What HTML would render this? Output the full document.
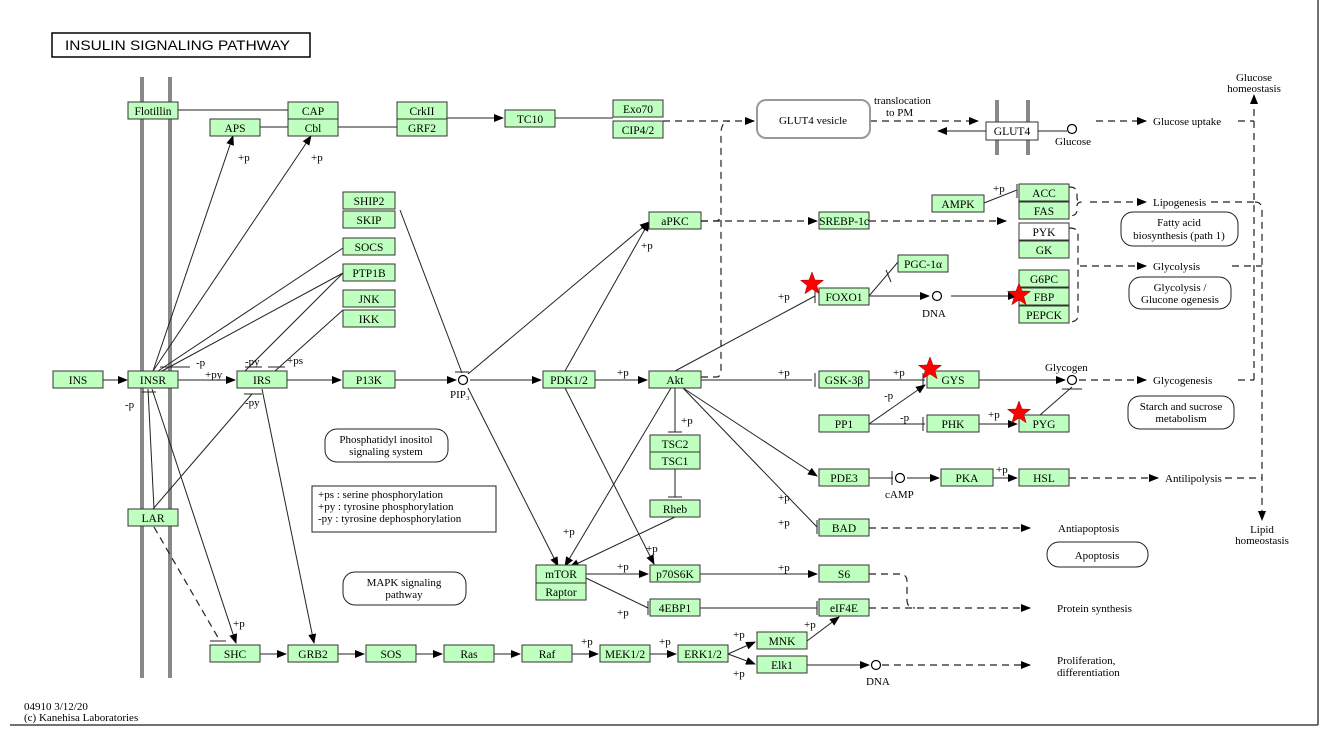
<!DOCTYPE html>
<html><head><meta charset="utf-8"><style>
html,body{margin:0;padding:0;background:#fff;}
svg{display:block;font-family:"Liberation Serif",serif;}
.n rect{fill:#bfffbf;stroke:#333;stroke-width:1;}
.n text{font-size:11.5px;text-anchor:middle;fill:#000;}
.w rect{fill:#fff;}
.l{stroke:#222;stroke-width:1;fill:none;}
.d{stroke:#222;stroke-width:1.2;fill:none;stroke-dasharray:7,5;}
.t{font-size:11px;fill:#000;}
.c{font-size:11px;fill:#000;text-anchor:middle;}
.rb{fill:#fff;stroke:#222;stroke-width:1;}
</style></head><body>
<svg width="1325" height="734" viewBox="0 0 1325 734" xmlns="http://www.w3.org/2000/svg">
<defs>
<marker id="a" markerWidth="10" markerHeight="8" refX="9" refY="4" orient="auto" markerUnits="userSpaceOnUse"><path d="M0,0 L10,4 L0,8 z" fill="#000"/></marker>
</defs>
<line x1="1318" y1="0" x2="1318" y2="725" stroke="#444" stroke-width="1.5"/>
<line x1="10" y1="725" x2="1318" y2="725" stroke="#444" stroke-width="1.5"/>
<rect x="52" y="33" width="258" height="24" fill="#fff" stroke="#000" stroke-width="1.5"/>
<text x="65" y="50" textLength="225" lengthAdjust="spacingAndGlyphs" style="font-size:13.5px;font-family:'Liberation Sans',sans-serif">INSULIN SIGNALING PATHWAY</text>
<line x1="142" y1="77" x2="142" y2="678" stroke="#888" stroke-width="4"/>
<line x1="170" y1="77" x2="170" y2="678" stroke="#888" stroke-width="4"/>
<line x1="997" y1="100" x2="997" y2="155" stroke="#888" stroke-width="4"/>
<line x1="1028" y1="100" x2="1028" y2="155" stroke="#888" stroke-width="4"/>

<g class="l">
<line x1="178" y1="110" x2="288" y2="110"/>
<line x1="260" y1="127" x2="288" y2="127"/>
<line x1="338" y1="127" x2="397" y2="127"/>
<line x1="447" y1="118" x2="503" y2="118" marker-end="url(#a)"/>
<line x1="555" y1="118" x2="613" y2="118"/>
<line x1="103" y1="380" x2="127" y2="380" marker-end="url(#a)"/>
<line x1="178" y1="380" x2="235" y2="380" marker-end="url(#a)"/>
<line x1="287" y1="380" x2="341" y2="380" marker-end="url(#a)"/>
<line x1="395" y1="380" x2="456" y2="380" marker-end="url(#a)"/>
<line x1="470" y1="380" x2="541" y2="380" marker-end="url(#a)"/>
<line x1="595" y1="380" x2="647" y2="380" marker-end="url(#a)"/>
<line x1="701" y1="380" x2="812" y2="380"/><line x1="815" y1="373" x2="815" y2="387"/>
<line x1="869" y1="380" x2="925" y2="380"/><line x1="923" y1="373" x2="923" y2="387"/>
<line x1="979" y1="380" x2="1065" y2="380" marker-end="url(#a)"/>
<line x1="869" y1="424" x2="925" y2="424"/><line x1="923" y1="417" x2="923" y2="431"/>
<line x1="869" y1="424" x2="925" y2="385" marker-end="url(#a)"/>
<line x1="979" y1="424" x2="1017" y2="424" marker-end="url(#a)"/>
<line x1="1040" y1="415" x2="1072" y2="387"/><line x1="1062" y1="389" x2="1082" y2="389"/>
<line x1="153" y1="371" x2="233" y2="136" marker-end="url(#a)"/>
<line x1="153" y1="371" x2="311" y2="136" marker-end="url(#a)"/>
<line x1="158" y1="371" x2="343" y2="248"/>
<line x1="162" y1="371" x2="343" y2="273"/>
<line x1="245" y1="371" x2="343" y2="273"/>
<line x1="275" y1="371" x2="343" y2="310"/>
<line x1="160" y1="367" x2="190" y2="367"/><line x1="245" y1="367" x2="262" y2="367"/><line x1="268" y1="367" x2="285" y2="367"/>
<line x1="400" y1="210" x2="462" y2="373"/><line x1="455" y1="372" x2="469" y2="372"/>
<line x1="468" y1="374" x2="649" y2="222" marker-end="url(#a)"/>
<line x1="565" y1="371" x2="649" y2="222" marker-end="url(#a)"/>
<line x1="468" y1="388" x2="558" y2="566" marker-end="url(#a)"/>
<line x1="565" y1="388" x2="654" y2="564" marker-end="url(#a)"/>
<line x1="671" y1="388" x2="565" y2="566" marker-end="url(#a)"/>
<line x1="675" y1="388" x2="675" y2="432"/><line x1="668" y1="432" x2="682" y2="432"/>
<line x1="675" y1="469" x2="675" y2="497"/><line x1="668" y1="497" x2="682" y2="497"/>
<line x1="675" y1="517" x2="570" y2="567" marker-end="url(#a)"/>
<line x1="586" y1="574" x2="648" y2="574" marker-end="url(#a)"/>
<line x1="586" y1="578" x2="648" y2="608"/><line x1="648" y1="601" x2="648" y2="615"/>
<line x1="700" y1="574" x2="817" y2="574" marker-end="url(#a)"/>
<line x1="700" y1="608" x2="817" y2="608"/><line x1="817" y1="601" x2="817" y2="615"/>
<line x1="675" y1="371" x2="815" y2="296"/><line x1="815" y1="289" x2="815" y2="303"/>
<line x1="869" y1="296" x2="898" y2="262"/><line x1="886" y1="270" x2="891" y2="282"/>
<line x1="869" y1="296" x2="929" y2="296" marker-end="url(#a)"/>
<line x1="951" y1="296" x2="1017" y2="296" marker-end="url(#a)"/>
<line x1="984" y1="203" x2="1017" y2="190"/><line x1="1017" y1="184" x2="1017" y2="198"/>
<line x1="683" y1="388" x2="817" y2="476" marker-end="url(#a)"/>
<line x1="683" y1="388" x2="817" y2="527"/><line x1="817" y1="520" x2="817" y2="534"/>
<line x1="869" y1="478" x2="893" y2="478"/><line x1="892" y1="471" x2="892" y2="485"/>
<line x1="907" y1="478" x2="939" y2="478" marker-end="url(#a)"/>
<line x1="993" y1="478" x2="1017" y2="478" marker-end="url(#a)"/>
<line x1="148" y1="389" x2="154" y2="509"/><line x1="142" y1="392" x2="156" y2="392"/>
<line x1="153" y1="509" x2="252" y2="394"/><line x1="244" y1="394" x2="262" y2="394"/>
<line x1="152" y1="389" x2="236" y2="643" marker-end="url(#a)"/>
<line x1="262" y1="389" x2="314" y2="643" marker-end="url(#a)"/>
<line x1="260" y1="654" x2="286" y2="654" marker-end="url(#a)"/>
<line x1="338" y1="654" x2="364" y2="654" marker-end="url(#a)"/>
<line x1="416" y1="654" x2="442" y2="654" marker-end="url(#a)"/>
<line x1="494" y1="654" x2="520" y2="654" marker-end="url(#a)"/>
<line x1="572" y1="654" x2="598" y2="654" marker-end="url(#a)"/>
<line x1="650" y1="654" x2="676" y2="654" marker-end="url(#a)"/>
<line x1="728" y1="654" x2="755" y2="642" marker-end="url(#a)"/>
<line x1="728" y1="654" x2="755" y2="664" marker-end="url(#a)"/>
<line x1="807" y1="641" x2="839" y2="617" marker-end="url(#a)"/>
<line x1="807" y1="665" x2="869" y2="665" marker-end="url(#a)"/>
<line x1="1038" y1="131" x2="1067" y2="131"/>
<line x1="986" y1="131" x2="938" y2="131" marker-end="url(#a)"/>
<line x1="210" y1="641" x2="226" y2="641"/>
</g>
<g class="d">
<line x1="663" y1="121" x2="754" y2="121" marker-end="url(#a)"/>
<path d="M701,377 L716,377 Q721,377 721,371 L721,134 Q721,121 730,121"/>
<path d="M701,221 L716,221 Q721,220 721,214"/>
<line x1="701" y1="221" x2="817" y2="221" marker-end="url(#a)"/>
<line x1="869" y1="221" x2="1006" y2="221" marker-end="url(#a)"/>
<line x1="870" y1="121" x2="978" y2="121" marker-end="url(#a)"/>
<line x1="1096" y1="121" x2="1146" y2="121" marker-end="url(#a)"/>
<line x1="1238" y1="121" x2="1254" y2="121"/>
<line x1="1254" y1="380" x2="1254" y2="95" marker-end="url(#a)"/>
<line x1="1238" y1="380" x2="1254" y2="380"/>
<line x1="1079" y1="380" x2="1146" y2="380" marker-end="url(#a)"/>
<path d="M1069,187 Q1077,187 1077,193 L1077,198 Q1077,202 1082,202 Q1077,202 1077,206 L1077,210 Q1077,216 1069,216"/>
<line x1="1090" y1="202" x2="1146" y2="202" marker-end="url(#a)"/>
<path d="M1069,228 Q1078,228 1078,234 L1078,315 Q1078,322 1069,322"/>
<line x1="1080" y1="266" x2="1146" y2="266" marker-end="url(#a)"/>
<line x1="1211" y1="202" x2="1255" y2="202"/>
<path d="M1255,202 Q1262,202 1262,210 L1262,520" marker-end="url(#a)"/>
<line x1="1232" y1="266" x2="1262" y2="266"/>
<line x1="1069" y1="478" x2="1158" y2="478" marker-end="url(#a)"/>
<line x1="1225" y1="478" x2="1262" y2="478"/>
<line x1="869" y1="528" x2="1030" y2="528" marker-end="url(#a)"/>
<path d="M869,574 L900,574 Q907,574 907,582 L907,600 Q907,608 915,608"/>
<line x1="869" y1="608" x2="1030" y2="608" marker-end="url(#a)"/>
<line x1="882" y1="665" x2="1030" y2="665" marker-end="url(#a)"/>
<line x1="154" y1="527" x2="220" y2="641"/>
</g>
<g fill="#fff" stroke="#000" stroke-width="1.2">
<circle cx="463" cy="380" r="4.5"/><circle cx="1072" cy="129" r="4.5"/><circle cx="937" cy="296" r="4.5"/>
<circle cx="1072" cy="380" r="4.5"/><circle cx="900" cy="478" r="4.5"/><circle cx="876" cy="665" r="4.5"/>
</g>
<rect x="757" y="100" width="113" height="38" rx="9" fill="#fff" stroke="#999" stroke-width="2"/>
<text x="813" y="124" class="c">GLUT4 vesicle</text>
<rect class="rb" x="1121" y="212" width="117" height="34" rx="12"/>
<text class="c" x="1179" y="226">Fatty acid</text><text class="c" x="1179" y="239">biosynthesis (path 1)</text>
<rect class="rb" x="1129" y="277" width="102" height="32" rx="12"/>
<text class="c" x="1180" y="291">Glycolysis /</text><text class="c" x="1180" y="303">Glucone ogenesis</text>
<rect class="rb" x="1128" y="396" width="106" height="33" rx="12"/>
<text class="c" x="1181" y="410">Starch and sucrose</text><text class="c" x="1181" y="422">metabolism</text>
<rect class="rb" x="1047" y="542" width="101" height="25" rx="12"/>
<text class="c" x="1097" y="559">Apoptosis</text>
<rect class="rb" x="325" y="429" width="123" height="33" rx="12"/>
<text class="c" x="386" y="443">Phosphatidyl inositol</text><text class="c" x="386" y="455">signaling system</text>
<rect class="rb" x="343" y="572" width="123" height="33" rx="12"/>
<text class="c" x="404" y="586">MAPK signaling</text><text class="c" x="404" y="598">pathway</text>
<rect x="312" y="486" width="184" height="46" fill="#fff" stroke="#222"/>
<text class="t" x="318" y="498">+ps : serine phosphorylation</text>
<text class="t" x="318" y="510">+py : tyrosine phosphorylation</text>
<text class="t" x="318" y="522">-py : tyrosine dephosphorylation</text>

<g class="n">
<rect x="128" y="102" width="50" height="17"/><text x="153" y="115">Flotillin</text>
<rect x="288" y="102" width="50" height="17"/><text x="313" y="115">CAP</text>
<rect x="288" y="119" width="50" height="17"/><text x="313" y="132">Cbl</text>
<rect x="210" y="119" width="50" height="17"/><text x="235" y="132">APS</text>
<rect x="397" y="102" width="50" height="17"/><text x="422" y="115">CrkII</text>
<rect x="397" y="119" width="50" height="17"/><text x="422" y="132">GRF2</text>
<rect x="505" y="110" width="50" height="17"/><text x="530" y="123">TC10</text>
<rect x="613" y="100" width="50" height="17"/><text x="638" y="113">Exo70</text>
<rect x="613" y="121" width="50" height="17"/><text x="638" y="134">CIP4/2</text>
<rect x="343" y="192" width="52" height="17"/><text x="369" y="205">SHIP2</text>
<rect x="343" y="211" width="52" height="17"/><text x="369" y="224">SKIP</text>
<rect x="343" y="238" width="52" height="17"/><text x="369" y="251">SOCS</text>
<rect x="343" y="264" width="52" height="17"/><text x="369" y="277">PTP1B</text>
<rect x="343" y="290" width="52" height="17"/><text x="369" y="303">JNK</text>
<rect x="343" y="310" width="52" height="17"/><text x="369" y="323">IKK</text>
<rect x="649" y="212" width="52" height="17"/><text x="675" y="225">aPKC</text>
<rect x="819" y="212" width="50" height="17"/><text x="844" y="225">SREBP-1c</text>
<rect x="932" y="195" width="52" height="17"/><text x="958" y="208">AMPK</text>
<rect x="1019" y="184" width="50" height="17"/><text x="1044" y="197">ACC</text>
<rect x="1019" y="202" width="50" height="17"/><text x="1044" y="215">FAS</text>
<g class="w"><rect x="1019" y="223" width="50" height="17"/></g><text x="1044" y="236">PYK</text>
<rect x="1019" y="241" width="50" height="17"/><text x="1044" y="254">GK</text>
<rect x="898" y="255" width="50" height="17"/><text x="923" y="268">PGC-1α</text>
<rect x="819" y="288" width="50" height="17"/><text x="844" y="301">FOXO1</text>
<rect x="1019" y="270" width="50" height="17"/><text x="1044" y="283">G6PC</text>
<rect x="1019" y="288" width="50" height="17"/><text x="1044" y="301">FBP</text>
<rect x="1019" y="306" width="50" height="17"/><text x="1044" y="319">PEPCK</text>
<rect x="53" y="371" width="50" height="17"/><text x="78" y="384">INS</text>
<rect x="128" y="371" width="50" height="17"/><text x="153" y="384">INSR</text>
<rect x="237" y="371" width="50" height="17"/><text x="262" y="384">IRS</text>
<rect x="343" y="371" width="52" height="17"/><text x="369" y="384">P13K</text>
<rect x="543" y="371" width="52" height="17"/><text x="569" y="384">PDK1/2</text>
<rect x="649" y="371" width="52" height="17"/><text x="675" y="384">Akt</text>
<rect x="819" y="371" width="50" height="17"/><text x="844" y="384">GSK-3β</text>
<rect x="927" y="371" width="52" height="17"/><text x="953" y="384">GYS</text>
<rect x="819" y="415" width="50" height="17"/><text x="844" y="428">PP1</text>
<rect x="927" y="415" width="52" height="17"/><text x="953" y="428">PHK</text>
<rect x="1019" y="415" width="50" height="17"/><text x="1044" y="428">PYG</text>
<rect x="650" y="435" width="50" height="17"/><text x="675" y="448">TSC2</text>
<rect x="650" y="452" width="50" height="17"/><text x="675" y="465">TSC1</text>
<rect x="650" y="500" width="50" height="17"/><text x="675" y="513">Rheb</text>
<rect x="819" y="469" width="50" height="17"/><text x="844" y="482">PDE3</text>
<rect x="941" y="469" width="52" height="17"/><text x="967" y="482">PKA</text>
<rect x="1019" y="469" width="50" height="17"/><text x="1044" y="482">HSL</text>
<rect x="819" y="519" width="50" height="17"/><text x="844" y="532">BAD</text>
<rect x="128" y="509" width="50" height="17"/><text x="153" y="522">LAR</text>
<rect x="536" y="565" width="50" height="18"/><text x="561" y="578">mTOR</text>
<rect x="536" y="583" width="50" height="17"/><text x="561" y="596">Raptor</text>
<rect x="650" y="565" width="50" height="17"/><text x="675" y="578">p70S6K</text>
<rect x="819" y="565" width="50" height="17"/><text x="844" y="578">S6</text>
<rect x="650" y="599" width="50" height="17"/><text x="675" y="612">4EBP1</text>
<rect x="819" y="599" width="50" height="17"/><text x="844" y="612">eIF4E</text>
<rect x="210" y="645" width="50" height="17"/><text x="235" y="658">SHC</text>
<rect x="288" y="645" width="50" height="17"/><text x="313" y="658">GRB2</text>
<rect x="366" y="645" width="50" height="17"/><text x="391" y="658">SOS</text>
<rect x="444" y="645" width="50" height="17"/><text x="469" y="658">Ras</text>
<rect x="522" y="645" width="50" height="17"/><text x="547" y="658">Raf</text>
<rect x="600" y="645" width="50" height="17"/><text x="625" y="658">MEK1/2</text>
<rect x="678" y="645" width="50" height="17"/><text x="703" y="658">ERK1/2</text>
<rect x="757" y="632" width="50" height="17"/><text x="782" y="645">MNK</text>
<rect x="757" y="656" width="50" height="17"/><text x="782" y="669">Elk1</text>
<g class="w"><rect x="986" y="122" width="52" height="18"/></g><text x="1012" y="135">GLUT4</text>
</g>

<g class="t">
<text x="238" y="161">+p</text><text x="311" y="161">+p</text>
<text x="196" y="366">-p</text><text x="205" y="378">+py</text>
<text x="245" y="365">-py</text><text x="287" y="364">+ps</text>
<text x="125" y="408">-p</text><text x="245" y="406">-py</text>
<text x="450" y="398">PIP₃</text>
<text x="617" y="376">+p</text><text x="641" y="249">+p</text>
<text x="681" y="424">+p</text>
<text x="778" y="376">+p</text><text x="893" y="376">+p</text>
<text x="884" y="399">-p</text><text x="900" y="421">-p</text><text x="988" y="418">+p</text>
<text x="778" y="300">+p</text><text x="993" y="192">+p</text>
<text x="922" y="317">DNA</text>
<text x="1045" y="371">Glycogen</text>
<text x="1055" y="145">Glucose</text>
<text x="874" y="104">translocation</text><text x="886" y="116">to PM</text>
<text x="778" y="501">+p</text><text x="778" y="526">+p</text>
<text x="885" y="498">cAMP</text><text x="996" y="473">+p</text>
<text x="563" y="535">+p</text><text x="646" y="552">+p</text>
<text x="617" y="570">+p</text><text x="617" y="616">+p</text>
<text x="778" y="571">+p</text>
<text x="233" y="627">+p</text>
<text x="581" y="645">+p</text><text x="659" y="645">+p</text>
<text x="733" y="638">+p</text><text x="733" y="677">+p</text><text x="804" y="628">+p</text>
<text x="866" y="685">DNA</text>
<text x="1153" y="125">Glucose uptake</text>
<text x="1153" y="206">Lipogenesis</text>
<text x="1153" y="270">Glycolysis</text>
<text x="1153" y="384">Glycogenesis</text>
<text x="1165" y="482">Antilipolysis</text>
<text x="1058" y="532">Antiapoptosis</text>
<text x="1057" y="612">Protein synthesis</text>
<text x="1057" y="664">Proliferation,</text><text x="1057" y="676">differentiation</text>
<text x="24" y="710">04910 3/12/20</text><text x="24" y="721">(c) Kanehisa Laboratories</text>
</g>
<text class="c" x="1254" y="81">Glucose</text><text class="c" x="1254" y="92">homeostasis</text>
<text class="c" x="1262" y="533">Lipid</text><text class="c" x="1262" y="544">homeostasis</text>
<g fill="#f00" stroke="#900" stroke-width="0.5">
<path transform="translate(812,284)" d="M0,-12 L3,-4 L11.5,-3.7 L4.8,1.5 L7.1,9.7 L0,5 L-7.1,9.7 L-4.8,1.5 L-11.5,-3.7 L-3,-4 Z"/>
<path transform="translate(1019,295)" d="M0,-12 L3,-4 L11.5,-3.7 L4.8,1.5 L7.1,9.7 L0,5 L-7.1,9.7 L-4.8,1.5 L-11.5,-3.7 L-3,-4 Z"/>
<path transform="translate(930,369)" d="M0,-12 L3,-4 L11.5,-3.7 L4.8,1.5 L7.1,9.7 L0,5 L-7.1,9.7 L-4.8,1.5 L-11.5,-3.7 L-3,-4 Z"/>
<path transform="translate(1019,413)" d="M0,-12 L3,-4 L11.5,-3.7 L4.8,1.5 L7.1,9.7 L0,5 L-7.1,9.7 L-4.8,1.5 L-11.5,-3.7 L-3,-4 Z"/>
</g>
</svg>
</body></html>
